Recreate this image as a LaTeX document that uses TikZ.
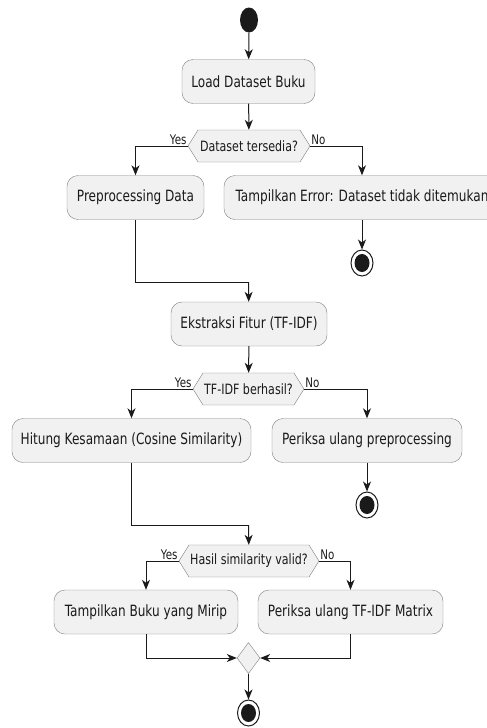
\documentclass[tikz,border=0pt]{standalone}
\usepackage{fontspec}
\setmainfont{DejaVu Sans}[FakeStretch=0.78]
\usepackage{tikz}
\usetikzlibrary{arrows.meta, shapes.geometric, shapes.symbols}
\definecolor{actFill}{HTML}{F1F1F1}
\definecolor{actLine}{HTML}{808080}
\definecolor{actInk}{HTML}{1A1A1A}

\begin{document}
\begin{tikzpicture}[x=1pt, y=-1pt, >={Stealth[length=10pt, width=8pt, inset=3pt]},
  act/.style={draw=actLine, fill=actFill, rounded corners=11pt, minimum height=44pt,
              inner sep=0pt, text=actInk, font=\fontsize{15.5}{17}\selectfont},
  cond/.style={signal, signal to=west and east, signal pointer angle=116, draw=actLine,
               fill=actFill, minimum height=32pt, inner sep=0pt, text=actInk,
               font=\fontsize{14.2}{16}\selectfont},
  lbl/.style={inner sep=1pt, text=actInk, font=\fontsize{13.2}{15}\selectfont},
  flow/.style={->, line width=1pt, actInk},
  startnode/.style={ellipse, fill=actInk, minimum width=18pt, minimum height=25pt, inner sep=0pt},
  stopnode/.style={ellipse, draw=actInk, line width=1pt, minimum width=22pt,
                   minimum height=26pt, inner sep=0pt,
                   path picture={\fill[actInk] (path picture bounding box.center)
                                 ellipse [x radius=7.5pt, y radius=9pt];}},
  merge/.style={diamond, draw=actLine, fill=actFill, minimum width=23pt,
                minimum height=31pt, inner sep=0pt}]
\useasboundingbox (0,0) rectangle (487,728);
\clip (0,0) rectangle (487,728);
% ---- load + first check
\node[startnode] (start) at (249,20) {};
\node[act, minimum width=133pt] (load) at (248.5,81.5) {Load Dataset Buku};
\node[cond, minimum width=122pt] (cekData) at (249,146) {Dataset tersedia?};
\node[act, minimum width=137pt] (prep) at (135.5,197.5) {Preprocessing Data};
\node[act, minimum width=276pt] (errData) at (362,197.5) {Tampilkan Error: Dataset tidak ditemukan};
\node[stopnode] (stopData) at (362,263) {};
\node[lbl, anchor=south east] (yesData) at (cekData.west) {Yes};
\node[lbl, anchor=south west] (noData) at (cekData.east) {No};
\draw[flow] (start) -- (load);
\draw[flow] (load) -- (cekData);
\draw[flow] (cekData.west) -| (prep.north);
\draw[flow] (cekData.east) -| (errData.north);
\draw[flow] (errData) -- (stopData);
% ---- tf-idf
\coordinate (joinA) at (248.5,282);
\node[act, minimum width=156pt] (fitur) at (249,324) {Ekstraksi Fitur (TF-IDF)};
\node[cond, minimum width=111pt] (cekTfidf) at (248.5,389) {TF-IDF berhasil?};
\node[act, minimum width=239pt] (hitung) at (131.5,440.5) {Hitung Kesamaan (Cosine Similarity)};
\node[act, minimum width=190pt] (ulangPre) at (367,440.5) {Periksa ulang preprocessing};
\node[stopnode] (stopTfidf) at (367,505) {};
\node[lbl, anchor=south east] (yesTfidf) at (cekTfidf.west) {Yes};
\node[lbl, anchor=south west] (noTfidf) at (cekTfidf.east) {No};
\draw[line width=1pt, actInk] (prep.south) |- (joinA);
\draw[flow] (joinA) -- (fitur);
\draw[flow] (fitur) -- (cekTfidf);
\draw[flow] (cekTfidf.west) -| (hitung.north);
\draw[flow] (cekTfidf.east) -| (ulangPre.north);
\draw[flow] (ulangPre) -- (stopTfidf);
% ---- similarity
\coordinate (joinB) at (248.5,525);
\node[cond, minimum width=140pt] (cekSim) at (249,561) {Hasil similarity valid?};
\node[act, minimum width=184pt] (tampil) at (146,612) {Tampilkan Buku yang Mirip};
\node[act, minimum width=185pt] (ulangMat) at (350.5,612) {Periksa ulang TF-IDF Matrix};
\node[merge] (gabung) at (248.5,658) {};
\node[stopnode] (stopAkhir) at (248.5,713) {};
\node[lbl, anchor=south east] (yesSim) at (cekSim.west) {Yes};
\node[lbl, anchor=south west] (noSim) at (cekSim.east) {No};
\draw[line width=1pt, actInk] (hitung.south) |- (joinB);
\draw[flow] (joinB) -- (cekSim);
\draw[flow] (cekSim.west) -| (tampil.north);
\draw[flow] (cekSim.east) -| (ulangMat.north);
\draw[flow] (tampil.south) |- (gabung.west);
\draw[flow] (ulangMat.south) |- (gabung.east);
\draw[flow] (gabung) -- (stopAkhir);
\end{tikzpicture}
\end{document}
